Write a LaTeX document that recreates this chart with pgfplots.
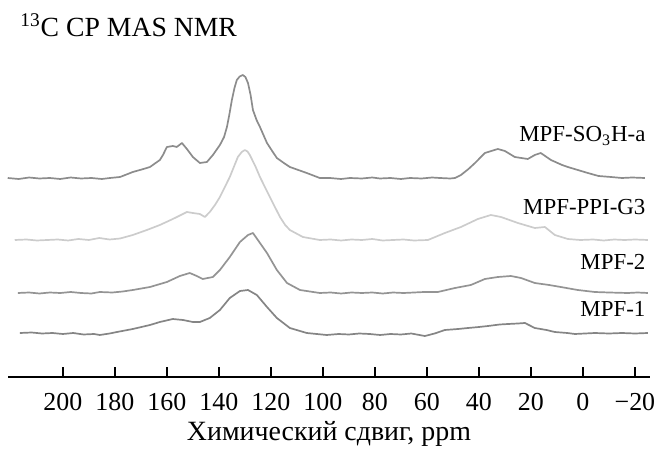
\documentclass[border=0pt]{standalone}
\usepackage{fontspec}
\setmainfont{Liberation Serif}
\usepackage{pgfplots}
\pgfplotsset{compat=1.18}

% spectra: x = chemical shift (ppm), y = height above the axis line
\pgfplotstableread{
x y
221.2 199
217 198
213 199.5
209 198.5
205 199
201 198
197 199.5
193 198.5
189 199
185 198
181.9 199
178 200
173.1 205
169 208
166.5 210
162.7 217
161.5 222
160 230
157.7 231
156.2 230
154.2 234
152.3 228
150 220
147.3 214
144.6 215
142.3 222
139.6 232
138 240
136.9 250
136 262
135 277
134 289
133.1 297
132 300.5
130.8 302
129.8 300
128.8 294
127.8 282
126.9 267
125.5 257
124.2 250
121.5 234
119.5 226
117.7 219
115 214
112.7 210
106.2 204
101.2 199
97.3 199
93 198
89.6 199
85 198.5
81 199.5
78.1 198.5
74 199
70 198
66.5 199
62 198.5
58 199.5
55 199
51 198.5
49.2 199
46.9 202
44 208
41.5 214
37.7 224
34 227
32.7 228
30 226
26.2 220
21.2 218
18.5 222
16.2 224
12.3 217
8 212
5.8 210
-1.9 204
-6 201
-10.8 200
-15 199
-19 199.5
-23.8 199
}\sulfo

\pgfplotstableread{
x y
218.5 137
214 137.5
210 136.5
206 137
202 137.5
198 136.5
194 138
190 137
186 139
182 137.5
178 138.5
173.1 142
167.7 147
162.7 152
157.7 158
152.3 165
150 164
147.3 163
145.4 160
143.5 165
141.5 172
139.6 180
135.8 200
132.7 220
131.2 225
130 227
129 225.5
128.1 222
126 211
124.2 200
120.4 180
116.5 160
114.5 152
112.7 147
107.7 140
101.2 137
97 137.5
93 136.5
89 137.5
85 137
81 138
77 136.5
73 137
69 137.5
65 136.5
59.6 137
53.1 144
46.9 150
40.4 158
35.4 162
31.5 160
25 154
18.5 149
14.6 150
10.8 142
5.8 138
1 137
-4 137.5
-8 136.5
-12 137.5
-16 137
-20 137.5
-25 137
}\ppi

\pgfplotstableread{
x y
217.3 84
213 84.5
209 83.5
205 84.5
201 84
197 85
193 84
189 83.5
185.8 85
181 84.5
177 85.5
173.1 87
166.5 90
160 95
155 101
151.2 104
148.5 101
146.2 98
142.3 100
139.6 107
135.8 120
131.9 135
128.8 142
126.9 144
125 137
121.5 124
117.7 107
113.8 94
108.8 87
101.2 84
97 84.5
93 83.5
89 84.5
85 84
81 84.5
77 83.5
73 84.5
69 84
65 84.5
61 85
55.8 85
49.2 89
43.1 92
37.7 98
32.7 100
27.7 101
23.8 99
18.5 94
13 92
8.5 90
2 87
-4.6 85
-10 84.5
-17.3 84
-21 84.5
-25 84
}\mpftwo

\pgfplotstableread{
x y
216.5 44
212 44.5
208 43.5
204 44
200 43
196 44
192 42.5
188 43
185.8 42
182 43.5
179.2 45
173.1 48
166.5 52
162.7 55
157.7 58
153.8 57
150 55
147.3 55
143.5 59
139.6 67
135.8 79
131.9 86
128.8 87
125.4 82
121.5 70
117.7 59
112.7 49
106.2 44
98.5 42
94 43
90 42.5
86 43.5
82 43
78 42
74 43
70 42.5
66 43.5
60.8 41
57 43.5
53.1 47
48 48
44.2 49
40 50
36.5 51
32 52.5
28.8 53
25 53.5
22.3 54
18.5 49
14 47
10.8 45
6 44
3.1 43
-4.6 44
-10 43.5
-15 44
-20 43.5
-25 44
}\mpfone

\begin{document}
\begin{tikzpicture}
\begin{axis}[
  scale only axis,
  width=321bp, height=188.5bp,
  x dir=reverse,
  xmin=-25.8, xmax=221.1,
  ymin=0, ymax=377,
  axis x line=bottom,
  axis y line=none,
  axis line style={-, line width=1bp},
  xtick={200,180,...,-20},
  xticklabels={200,180,160,140,120,100,80,60,40,20,0,−20},
  xtick align=inside,
  major tick length=5bp,
  x tick style={black, line width=1bp},
  xticklabel style={font=\fontsize{13}{15}\selectfont, yshift=-4.5bp},
  xlabel={Химический сдвиг, ppm},
  xlabel style={font=\fontsize{14}{16}\selectfont, yshift=1.5bp},
  clip=false,
  every axis plot/.append style={line width=0.85bp, line join=round},
]
\addplot[no marks, color=black!45] table {\sulfo};
\addplot[no marks, color=black!20] table {\ppi};
\addplot[no marks, color=black!42] table {\mpftwo};
\addplot[no marks, color=black!48] table {\mpfone};

\node[anchor=base west, inner sep=0pt, font=\fontsize{13.9}{16}\selectfont] at (axis cs:216.5,340) {\textsuperscript{13}C CP MAS NMR};
\node[anchor=base east, inner sep=0pt, font=\fontsize{11.5}{13}\selectfont] at (axis cs:-24.2,235) {MPF-SO\textsubscript{3}H-a};
\node[anchor=base east, inner sep=0pt, font=\fontsize{11.5}{13}\selectfont] at (axis cs:-24.2,162) {MPF-PPI-G3};
\node[anchor=base east, inner sep=0pt, font=\fontsize{11.5}{13}\selectfont] at (axis cs:-24.2,107) {MPF-2};
\node[anchor=base east, inner sep=0pt, font=\fontsize{11.5}{13}\selectfont] at (axis cs:-24.2,61) {MPF-1};
\end{axis}
\pgfresetboundingbox
\path (-4bp,-36.5bp) rectangle (325bp,188.5bp);
\end{tikzpicture}
\end{document}
